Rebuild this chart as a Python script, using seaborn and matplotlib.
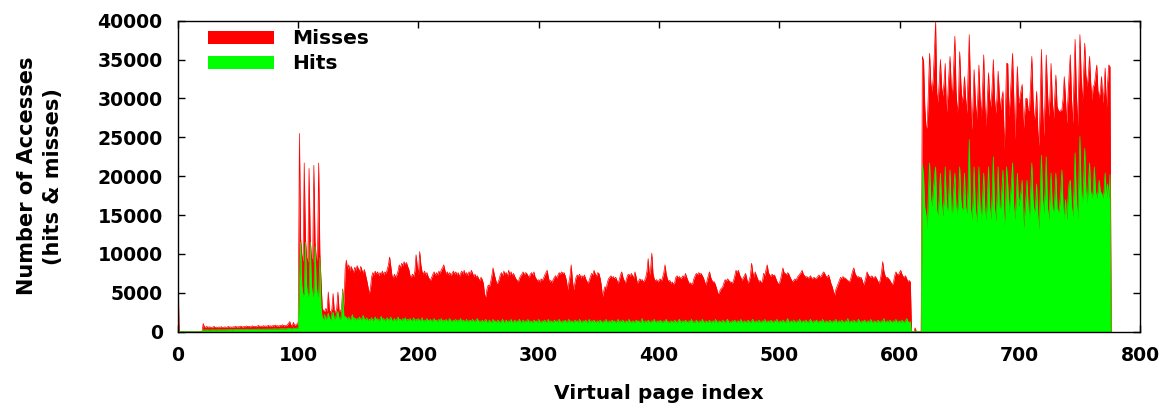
import numpy as np
import pandas as pd
import matplotlib
matplotlib.use("Agg")
import matplotlib.pyplot as plt
import seaborn as sns

# Per-page access counts, in hundreds of accesses.
# Each segment starts at the page index given with it.
boot_start = 0
boot_accesses = [80, 0]
boot_hits = [3, 0]

low_start = 20
low_accesses = [
    0, 10.5, 6.2, 5.6, 7.0, 5.2, 6.4, 5.8, 5.1, 6.0,
    6.8, 5.4, 5.9, 5.2, 6.1, 5.6, 6.5, 5.3, 5.8, 6.2,
    5.5, 6.0, 6.8, 5.7, 6.2, 5.4, 6.4, 6.0, 7.0, 5.8,
    6.5, 6.1, 7.2, 6.4, 6.0, 6.8, 6.2, 7.5, 6.4, 7.0,
    6.2, 6.8, 7.6, 6.5, 7.0, 6.4, 7.2, 8.0, 6.8, 7.2,
    6.6, 7.8, 7.0, 7.4, 6.8, 8.2, 7.2, 7.6, 7.0, 8.0,
    7.4, 8.6, 7.2, 7.8, 7.0, 8.2, 7.6, 9.0, 7.4, 8.0,
    7.6, 8.8, 11.0, 13.0, 8.2, 7.6, 12.0, 7.8, 9.0, 10.0,
]
low_hits = [
    0, 2.5, 2.0, 2.2, 2.6, 2.0, 2.4, 2.1, 2.3, 2.5,
    2.2, 2.4, 2.1, 2.5, 2.3, 2.6, 2.2, 2.4, 2.5, 2.3,
    2.6, 2.4, 2.7, 2.5, 2.8, 2.4, 2.6, 2.7, 3.0, 2.6,
    2.8, 2.7, 3.0, 2.8, 2.6, 3.0, 2.8, 3.2, 2.9, 3.0,
    2.8, 3.1, 3.3, 3.0, 3.2, 2.9, 3.3, 3.5, 3.1, 3.3,
    3.0, 3.4, 3.2, 3.5, 3.1, 3.6, 3.3, 3.5, 3.2, 3.7,
    3.4, 3.8, 3.3, 3.6, 3.4, 3.9, 3.5, 4.0, 3.6, 3.8,
    3.5, 4.0, 4.5, 4.2, 3.8, 3.6, 5.0, 4.0, 4.5, 4.8,
]

burst_start = 100
burst_accesses = [
    12, 255, 120, 98, 90, 217, 120, 95, 90, 210,
    120, 95, 90, 214, 115, 95, 90, 217, 100, 65,
    30, 27, 26, 30, 26, 51, 27, 25, 29, 49,
    26, 25, 30, 51, 27, 26, 30, 55, 32, 80,
]
burst_hits = [
    4, 60, 115, 60, 45, 50, 115, 60, 45, 50,
    115, 60, 45, 50, 110, 60, 45, 50, 95, 30,
    18, 15, 22, 16, 19, 24, 17, 15, 23, 25,
    16, 18, 24, 26, 17, 16, 22, 52, 19, 20,
]

mid_start = 140
mid_accesses = [
    92, 80, 86, 78, 84, 80, 76, 83, 79, 85,
    81, 77, 84, 79, 75, 80, 73, 66, 58, 49,
    55, 70, 76, 73, 78, 74, 77, 72, 76, 74,
    78, 73, 77, 75, 80, 86, 96, 84, 72, 69,
    74, 70, 73, 78, 86, 82, 88, 85, 90, 86,
    89, 84, 80, 72, 70, 74, 71, 78, 99, 84,
    74, 103, 86, 77, 74, 78, 73, 76, 71, 68,
    66, 70, 74, 77, 72, 76, 73, 78, 75, 80,
    82, 86, 79, 74, 77, 73, 76, 72, 75, 78,
    74, 77, 73, 76, 71, 75, 78, 74, 79, 73,
    76, 72, 77, 74, 79, 75, 71, 74, 70, 72,
    68, 66, 70, 67, 62, 47, 45, 55, 60, 58,
    64, 72, 82, 74, 68, 62, 63, 67, 73, 76,
    72, 78, 74, 76, 71, 79, 73, 77, 72, 75,
    71, 68, 66, 64, 69, 72, 74, 77, 73, 76,
    75, 72, 70, 74, 76, 73, 77, 70, 68, 65,
    67, 64, 68, 66, 69, 73, 76, 79, 70, 64,
    66, 63, 67, 70, 72, 69, 73, 76, 74, 77,
    75, 76, 72, 66, 54, 63, 72, 86, 66, 54,
    62, 70, 73, 71, 74, 69, 72, 70, 73, 68,
    65, 62, 66, 71, 75, 73, 79, 74, 71, 76,
    75, 69, 60, 45, 52, 58, 55, 63, 68, 70,
    72, 69, 71, 68, 70, 66, 62, 67, 73, 77,
    70, 66, 62, 68, 73, 74, 71, 75, 72, 69,
    77, 70, 62, 65, 68, 66, 67, 64, 66, 70,
    78, 94, 72, 80, 101, 75, 68, 65, 67, 64,
    66, 68, 65, 70, 76, 86, 74, 68, 64, 66,
    62, 64, 61, 63, 70, 72, 69, 71, 68, 70,
    72, 69, 75, 70, 66, 62, 63, 61, 62, 68,
    72, 75, 73, 76, 74, 75, 72, 69, 64, 60,
    66, 72, 77, 70, 66, 64, 64, 60, 55, 49,
    50, 54, 56, 58, 63, 67, 65, 68, 66, 64,
    64, 62, 66, 72, 79, 76, 79, 73, 70, 66,
    69, 72, 75, 68, 62, 66, 72, 88, 76, 70,
    77, 72, 68, 64, 66, 63, 65, 75, 72, 80,
    86, 76, 73, 71, 74, 72, 73, 69, 65, 62,
    62, 67, 74, 82, 76, 75, 73, 76, 74, 70,
    67, 64, 66, 68, 66, 70, 72, 74, 76, 79,
    74, 72, 70, 71, 69, 70, 72, 68, 69, 70,
    68, 69, 71, 73, 70, 72, 75, 77, 74, 71,
    70, 73, 68, 62, 58, 52, 47, 54, 58, 62,
    66, 70, 68, 71, 69, 69, 67, 66, 64, 66,
    72, 78, 82, 75, 72, 70, 71, 69, 70, 66,
    60, 64, 70, 77, 73, 71, 70, 72, 69, 70,
    71, 68, 65, 62, 67, 76, 90, 78, 72, 69,
    70, 68, 66, 63, 60, 64, 72, 77, 74, 73,
    76, 79, 74, 71, 70, 72, 68, 64, 66, 64,
]
mid_hits = [
    18, 16, 19, 15, 17, 22, 16, 18, 15, 17,
    16, 19, 15, 17, 21, 16, 15, 18, 14, 16,
    15, 18, 14, 16, 19, 15, 17, 14, 16, 20,
    15, 17, 14, 16, 18, 15, 16, 19, 14, 15,
    17, 14, 16, 19, 15, 16, 14, 17, 15, 18,
    14, 16, 15, 17, 14, 15, 18, 14, 16, 15,
    17, 14, 15, 18, 13, 15, 14, 17, 15, 14,
    16, 13, 15, 17, 14, 15, 13, 16, 14, 17,
    13, 15, 14, 16, 13, 15, 17, 14, 13, 15,
    14, 16, 13, 15, 14, 17, 13, 15, 14, 13,
    16, 13, 14, 15, 13, 16, 14, 13, 15, 17,
    13, 14, 12, 15, 13, 14, 16, 12, 13, 15,
    13, 12, 16, 13, 14, 12, 15, 13, 12, 14,
    16, 12, 13, 15, 12, 14, 13, 16, 12, 13,
    15, 12, 14, 13, 16, 12, 13, 15, 12, 14,
    13, 16, 12, 14, 13, 12, 15, 13, 14, 12,
    16, 13, 12, 14, 13, 15, 12, 13, 16, 12,
    14, 13, 12, 15, 13, 14, 12, 16, 13, 12,
    14, 13, 15, 12, 13, 16, 12, 14, 13, 12,
    15, 13, 14, 12, 16, 13, 12, 14, 13, 15,
    12, 13, 16, 12, 14, 13, 15, 12, 13, 14,
    12, 15, 13, 12, 14, 13, 16, 12, 13, 14,
    12, 15, 13, 14, 12, 13, 16, 12, 14, 13,
    15, 12, 13, 14, 12, 16, 13, 12, 14, 13,
    12, 15, 13, 14, 12, 13, 17, 12, 13, 14,
    12, 15, 13, 12, 14, 13, 16, 12, 13, 14,
    12, 15, 13, 12, 14, 13, 16, 12, 13, 12,
    14, 13, 12, 15, 13, 12, 14, 16, 12, 13,
    14, 12, 15, 13, 12, 14, 13, 16, 12, 13,
    12, 15, 13, 12, 14, 12, 16, 13, 12, 14,
    13, 12, 15, 12, 13, 14, 12, 16, 13, 12,
    14, 13, 12, 15, 13, 12, 14, 16, 12, 13,
    12, 14, 13, 15, 12, 13, 14, 12, 16, 13,
    12, 14, 13, 12, 15, 13, 12, 14, 16, 12,
    13, 14, 12, 15, 13, 12, 14, 13, 16, 12,
    13, 14, 12, 15, 13, 12, 14, 13, 16, 12,
    13, 14, 12, 15, 13, 12, 14, 17, 12, 13,
    14, 12, 15, 13, 12, 14, 13, 16, 12, 13,
    14, 12, 15, 13, 12, 14, 16, 13, 12, 14,
    13, 15, 12, 13, 14, 12, 16, 13, 12, 14,
    13, 12, 15, 13, 12, 14, 13, 16, 12, 13,
    14, 12, 15, 13, 12, 14, 13, 17, 12, 13,
    14, 12, 15, 13, 12, 14, 16, 13, 12, 14,
    13, 15, 12, 13, 14, 12, 16, 13, 12, 14,
    13, 12, 15, 13, 12, 14, 13, 17, 12, 13,
    14, 12, 15, 13, 12, 14, 13, 16, 12, 13,
    14, 12, 15, 13, 12, 14, 17, 13, 12, 13,
]

gap_start = 610
gap_accesses = [0, 0, 0, 5, 0, 0, 0, 0, 0]
gap_hits = [0, 0, 0, 1, 0, 0, 0, 0, 0]

hot_start = 619
hot_accesses = [
    354, 348, 290, 264, 262, 310, 358, 320, 309, 325,
    360, 399, 307, 295, 320, 350, 315, 303, 320, 345,
    281, 300, 330, 354, 315, 305, 340, 380, 310, 281,
    300, 360, 320, 294, 305, 328, 300, 281, 330, 382,
    310, 260, 290, 337, 300, 273, 300, 343, 300, 277,
    310, 356, 290, 264, 300, 333, 300, 289, 315, 350,
    300, 281, 300, 335, 305, 285, 300, 309, 234, 280,
    345, 345, 277, 300, 330, 358, 300, 247, 300, 341,
    294, 300, 310, 318, 260, 280, 300, 300, 285, 285,
    320, 354, 300, 273, 280, 309, 260, 238, 300, 363,
    290, 251, 300, 356, 310, 277, 300, 345, 300, 273,
    300, 330, 290, 285, 283, 285, 285, 300, 328, 300,
    268, 300, 330, 356, 300, 268, 320, 376, 310, 264,
    320, 382, 330, 294, 330, 371, 330, 315, 330, 354,
    320, 298, 315, 318, 330, 343, 310, 301, 310, 328,
    294, 310, 339, 285, 320, 343, 341, 0,
]
hot_hits = [
    215, 200, 160, 150, 133, 180, 217, 170, 161, 180,
    200, 212, 155, 150, 175, 204, 165, 148, 170, 212,
    160, 155, 180, 208, 155, 152, 180, 204, 160, 152,
    170, 212, 170, 155, 160, 204, 160, 152, 185, 247,
    160, 144, 165, 212, 160, 140, 165, 212, 160, 144,
    170, 204, 155, 144, 170, 212, 160, 144, 175, 225,
    160, 142, 170, 212, 160, 157, 180, 208, 135, 155,
    212, 190, 152, 170, 190, 217, 160, 144, 170, 204,
    161, 170, 180, 195, 131, 150, 170, 195, 160, 144,
    180, 217, 170, 152, 160, 190, 150, 131, 180, 227,
    170, 152, 180, 225, 160, 144, 170, 204, 160, 152,
    170, 204, 160, 152, 160, 180, 208, 160, 144, 170,
    144, 170, 190, 195, 160, 148, 180, 230, 170, 144,
    190, 251, 180, 165, 190, 236, 180, 165, 190, 217,
    180, 172, 180, 212, 180, 172, 180, 195, 180, 178,
    172, 180, 204, 170, 190, 170, 202, 0,
]

segments = [
    (boot_start, boot_accesses, boot_hits),
    (low_start, low_accesses, low_hits),
    (burst_start, burst_accesses, burst_hits),
    (mid_start, mid_accesses, mid_hits),
    (gap_start, gap_accesses, gap_hits),
    (hot_start, hot_accesses, hot_hits),
]

n_pages = hot_start + len(hot_accesses)
accesses = np.zeros(n_pages)
hits = np.zeros(n_pages)
for start, acc, hit in segments:
    accesses[start:start + len(acc)] = acc
    hits[start:start + len(hit)] = hit

df = pd.DataFrame({
    "page": np.arange(n_pages),
    "accesses": accesses * 100,
    "hits": hits * 100,
})
df["misses"] = df["accesses"] - df["hits"]

sns.set_style("ticks")
plt.rcParams["font.family"] = ["DejaVu Sans"]
plt.rcParams["font.weight"] = "bold"
plt.rcParams["text.color"] = "black"
plt.rcParams["axes.labelcolor"] = "black"
plt.rcParams["xtick.color"] = "black"
plt.rcParams["ytick.color"] = "black"

RED = "#ff0000"
GREEN = "#00ff00"

fig, ax = plt.subplots(figsize=(11.73, 4.09), dpi=100)
fig.subplots_adjust(left=0.1517, right=0.9719, bottom=0.189, top=0.9494)

# Stacked areas: misses sit on top of hits, so the red area spans the total.
ax.fill_between(df["page"], 0, df["accesses"], color=RED, lw=0, label="Misses")
sns.lineplot(data=df, x="page", y="accesses", color=RED, lw=0.5,
             estimator=None, ax=ax, legend=False)
ax.fill_between(df["page"], 0, df["hits"], color=GREEN, lw=0, label="Hits")
sns.lineplot(data=df, x="page", y="hits", color=GREEN, lw=0.5,
             estimator=None, ax=ax, legend=False)

ax.set_xlim(0, 800)
ax.set_ylim(0, 40000)
ax.set_xticks(np.arange(0, 801, 100))
ax.set_yticks(np.arange(0, 40001, 5000))

for side in ax.spines.values():
    side.set_visible(True)
    side.set_color("black")
    side.set_linewidth(1.0)

ax.tick_params(direction="in", top=True, right=True, length=5, width=1,
               labelsize=13.6, colors="black", labelcolor="black")
ax.tick_params(axis="y", pad=11)
ax.tick_params(axis="x", pad=10)
for lab in ax.get_xticklabels() + ax.get_yticklabels():
    lab.set_fontweight("bold")

ax.set_xlabel("Virtual page index", fontsize=14.5, fontweight="bold",
              labelpad=14, color="black")
ax.set_ylabel("Number of Accesses\n(hits & misses)", fontsize=15,
              fontweight="bold", labelpad=25, linespacing=1.35, color="black")

leg = ax.legend(loc="upper left", bbox_to_anchor=(0.031, 0.972), frameon=False,
                borderpad=0, borderaxespad=0, handlelength=3.3, handleheight=0.65,
                handletextpad=0.9, labelspacing=0.3,
                prop={"size": 14.5, "weight": "bold"})
for txt in leg.get_texts():
    txt.set_color("black")

fig.savefig("out.png", dpi=100)
